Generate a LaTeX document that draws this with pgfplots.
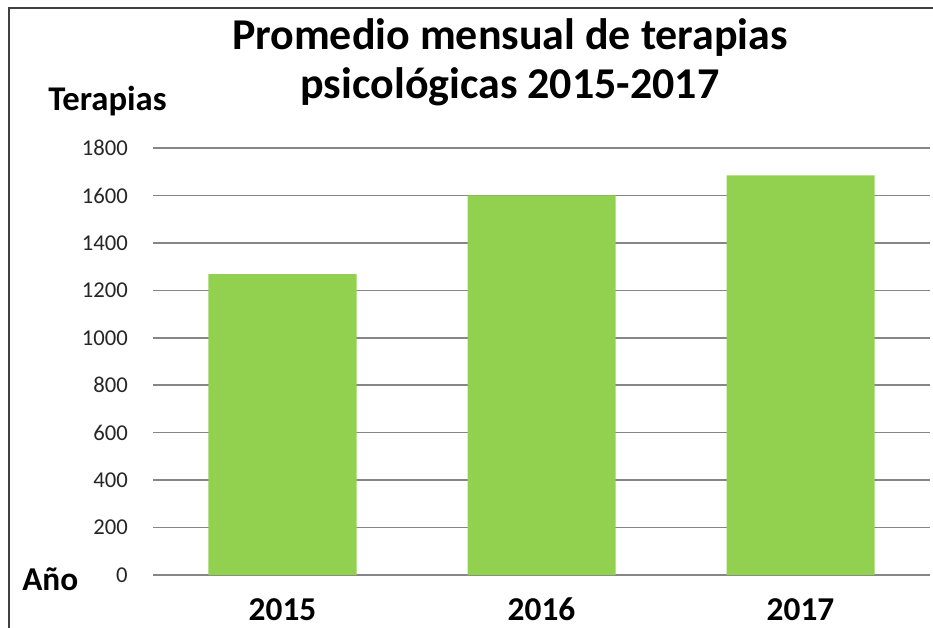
\documentclass[border=0pt]{standalone}
\usepackage{pgfplots}
\pgfplotsset{compat=1.18}
\usepackage{fontspec}
\setmainfont{Carlito}
\definecolor{bargreen}{RGB}{146,208,80}
\definecolor{gridgray}{RGB}{134,134,134}
\definecolor{framegray}{RGB}{64,64,64}
\begin{document}
\begin{tikzpicture}
\begin{scope}[x=0.75pt,y=-0.75pt]
\useasboundingbox (0,0) rectangle (933,628);
\begin{scope}
\clip (0,0) rectangle (933,628);
\draw[framegray, line width=1.5pt] (9,8) rectangle (1100,800);
\end{scope}
\node[anchor=base, font=\fontsize{33}{38}\selectfont\bfseries] at (510,50) {Promedio mensual de terapias};
\node[anchor=base, font=\fontsize{33}{38}\selectfont\bfseries] at (510,98) {psicológicas 2015-2017};
\node[anchor=base west, inner sep=0pt, font=\fontsize{26}{30}\selectfont\bfseries] at (48,110) {Terapias};
\node[anchor=base west, inner sep=0pt, font=\fontsize{25}{30}\selectfont\bfseries] at (22,590) {Año};
\end{scope}
\begin{axis}[
  at={(114.75pt,-431.25pt)}, anchor=south west,
  scale only axis,
  width=582.75pt, height=320.25pt,
  xmin=-0.5, xmax=2.5,
  ymin=0, ymax=1800,
  ytick distance=200,
  xtick=data,
  xticklabels={2015,2016,2017},
  axis line style={draw=none},
  major tick length=0pt,
  ymajorgrids,
  major grid style={gridgray, line width=1.2pt},
  /pgf/number format/assume math mode=true,
  /pgf/number format/1000 sep={},
  yticklabel style={anchor=east, inner sep=0pt, xshift=-18.75pt, font=\fontsize{17}{20}\selectfont, text=black!85},
  xticklabel style={anchor=base, inner sep=0pt, text depth=0pt, yshift=-34pt, font=\fontsize{25}{30}\selectfont\bfseries},
]
\addplot[ybar, bar width=111pt, fill=bargreen, draw=none] coordinates {(0,1268) (1,1600) (2,1685)};
\end{axis}
\end{tikzpicture}
\end{document}
